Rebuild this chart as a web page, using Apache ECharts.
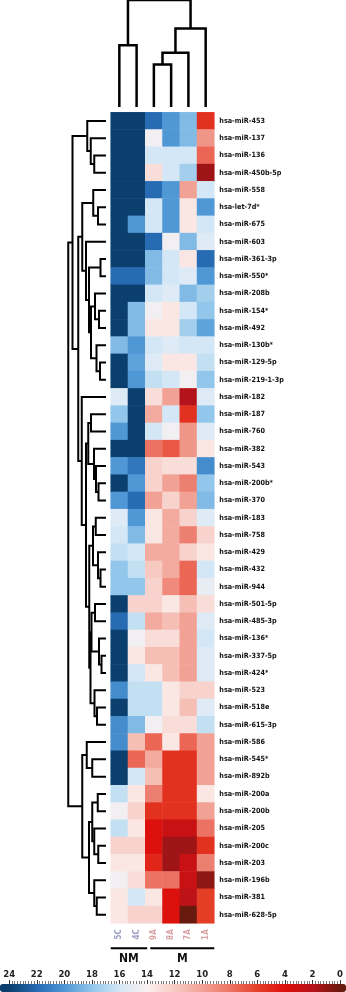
<!DOCTYPE html>
<html>
<head>
<meta charset="utf-8">
<style>
html, body { margin: 0; padding: 0; background: #fff; }
#chart { width: 346px; height: 992px; }
</style>
<script src="https://cdn.jsdelivr.net/npm/echarts@6/dist/echarts.min.js"></script>
</head>
<body>
<div id="chart"></div>
<script>
var samples = ['5C', '4C', '9A', '8A', '7A', '1A'];
var sampleColors = ['#9a9dc3', '#9a9dc3', '#d8a2a5', '#d8a2a5', '#d8a2a5', '#d8a2a5'];
var groups = [['NM', 0, 1], ['M', 2, 5]];

var mirnas = ['hsa-miR-453', 'hsa-miR-137', 'hsa-miR-136', 'hsa-miR-450b-5p', 'hsa-miR-558',
    'hsa-let-7d*', 'hsa-miR-675', 'hsa-miR-603', 'hsa-miR-361-3p', 'hsa-miR-550*', 'hsa-miR-208b',
    'hsa-miR-154*', 'hsa-miR-492', 'hsa-miR-130b*', 'hsa-miR-129-5p', 'hsa-miR-219-1-3p', 'hsa-miR-182',
    'hsa-miR-187', 'hsa-miR-760', 'hsa-miR-382', 'hsa-miR-543', 'hsa-miR-200b*', 'hsa-miR-370',
    'hsa-miR-183', 'hsa-miR-758', 'hsa-miR-429', 'hsa-miR-432', 'hsa-miR-944', 'hsa-miR-501-5p',
    'hsa-miR-485-3p', 'hsa-miR-136*', 'hsa-miR-337-5p', 'hsa-miR-424*', 'hsa-miR-523', 'hsa-miR-518e',
    'hsa-miR-615-3p', 'hsa-miR-586', 'hsa-miR-545*', 'hsa-miR-892b', 'hsa-miR-200a', 'hsa-miR-200b',
    'hsa-miR-205', 'hsa-miR-200c', 'hsa-miR-203', 'hsa-miR-196b', 'hsa-miR-381', 'hsa-miR-628-5p'];

// one row per miRNA, columns in sample order
var values = [
    [24, 24, 22, 20, 18.5, 5.5],
    [24, 24, 14.5, 20, 18.5, 9.5],
    [24, 24, 16, 16, 16, 7.5],
    [24, 24, 13, 16, 17.5, 1.5],
    [24, 24, 22, 20, 10, 16],
    [24, 24, 16, 20, 13.5, 20],
    [24, 20, 16, 20, 13.5, 16],
    [24, 24, 22, 14.5, 18.5, 15.5],
    [24, 24, 18.5, 16, 13.5, 22],
    [22, 22, 18.5, 16, 15.5, 20],
    [24, 24, 16, 15.5, 18.5, 17.5],
    [24, 18.5, 14.5, 13.5, 16, 18],
    [24, 18.5, 13.5, 13.5, 17.5, 19.5],
    [18.5, 20, 16, 15.5, 16, 16],
    [24, 19.5, 15.5, 13.5, 13.5, 16.5],
    [24, 20, 16.5, 16, 14.5, 18],
    [15.5, 24, 13, 10, 2, 15.5],
    [18, 24, 10.5, 16, 5.5, 18],
    [20, 24, 16, 14.5, 9.5, 15.5],
    [24, 24, 8, 7, 9.5, 13.5],
    [20, 21.5, 12.5, 13, 13, 20.5],
    [24, 20, 12.5, 10, 8.5, 18],
    [20, 22, 10, 12.5, 10, 18.5],
    [15.5, 20, 13.5, 10.5, 12.5, 15.5],
    [16, 18.5, 13.5, 10.5, 8.5, 12.5],
    [16.5, 16, 10.5, 10.5, 12.5, 13.5],
    [18, 16.5, 12, 10.5, 7.5, 16],
    [18, 18, 12.5, 9, 7.5, 15],
    [24, 12.5, 12.5, 13.5, 11.5, 13],
    [22, 16.5, 10.5, 11.5, 10, 15.5],
    [24, 14.5, 13, 13, 10, 16],
    [24, 13.5, 11.5, 11.5, 10, 15.5],
    [24, 16, 13.5, 11.5, 10, 15.5],
    [20.5, 16.5, 16.5, 13.5, 12.5, 12.5],
    [24, 16.5, 16.5, 13.5, 11.5, 15.5],
    [20.5, 18.5, 14.5, 13, 13, 16.5],
    [20.5, 11.5, 7.5, 13.5, 7.5, 10],
    [24, 7.5, 10.5, 5.5, 5.5, 10],
    [24, 16, 11.5, 5.5, 5.5, 10],
    [16.5, 13.5, 8.5, 5.5, 5.5, 13.5],
    [14.5, 12.5, 5.5, 5.5, 5.5, 10],
    [16.5, 13.5, 4, 3, 3, 8],
    [12.5, 12.5, 4, 1.5, 1.5, 5.5],
    [13.5, 13.5, 5, 1.5, 3, 8.5],
    [14.5, 13, 8, 8, 3, 1],
    [13.5, 16, 13.5, 4, 2.5, 6],
    [13.5, 12.5, 12.5, 4, 0, 6]
];

// colour scale, value 0 -> 24 in steps of 2
var scaleColors = ['#661a0e', '#b3131a', '#dd0f0c', '#e53d26', '#ec7363', '#f2a195', '#f7c9c1',
    '#fbf1f0', '#d4e8f6', '#92c6eb', '#4f97d5', '#276bb4', '#0b3e6c'];
var scaleStep = 2;

// dendrograms: [height, left, right], leaves are row / column indices
var rowTree = [15.1,
    [13.4,
        [7.5, 0, [6.1, 1, [4.7, 2, 3]]],
        [11.1,
            [9.5,
                [5.1, 4, [3.2, 5, 6]],
                [8.0, 7, [6.8, [2.2, 8, 9], [6.0, [4.4, 10, [2.8, 11, 12]], [3.8, 13, [2.4, 14, 15]]]]]],
            [9.7, 16,
                [8.0,
                    [7.1, [6.0, 17, 18], [4.8, 19, [4.0, 20, [3.0, 21, 22]]]],
                    [6.7,
                        [5.2, [4.1, 23, 24], [3.2, 25, [2.2, 26, 27]]],
                        [6.2, [5.8, [4.4, 28, 29], [2.8, 30, [1.8, 31, 32]]], [4.6, 33, [3.6, 34, 35]]]]]]]],
    [9.5,
        [7.7, 36, [5.5, 37, 38]],
        [6.8, [5.5, [3.3, 39, 40], [4.7, 41, [3.1, 42, 43]]], [4.7, 44, [3.7, 45, 46]]]]];
var colTree = [42.4, [24.5, 0, 1], [31.1, [21.5, [16.8, 2, 3], 4], 5]];

function flatten(node, out) {
    if (typeof node === 'number') return { pos: node, h: 0 };
    var a = flatten(node[1], out);
    var b = flatten(node[2], out);
    out.push([a.pos, a.h, b.pos, b.h, node[0]]);
    return { pos: (a.pos + b.pos) / 2, h: node[0] };
}
var rowLinks = [];
flatten(rowTree, rowLinks);
var colLinks = [];
flatten(colTree, colLinks);

var cells = [];
values.forEach(function (row, r) {
    row.forEach(function (v, c) { cells.push([c, r, v]); });
});

// the colour bar runs a little past 0 and 24, so resample the scale over that range
var barMin = -0.3, barMax = 24.65;
function colorAt(v) {
    var t = Math.max(0, Math.min(scaleColors.length - 1, v / scaleStep));
    return echarts.color.lerp(t / (scaleColors.length - 1), scaleColors);
}
var barColors = [];
for (var k = 0; k <= 120; k++) {
    barColors.push(colorAt(barMin + (barMax - barMin) * k / 120));
}

var font = '"DejaVu Sans Condensed", sans-serif';
var nRows = mirnas.length;
var gridTop = 112.3, gridH = 811, gridL = 110.7, gridW = 103.6;

var chart = echarts.init(document.getElementById('chart'));

var option = {
    animation: false,
    grid: [
        { left: gridL, top: gridTop, width: gridW, height: gridH },
        { left: 0, top: gridTop, width: 106, height: gridH },
        { left: gridL, top: 0, width: gridW, height: 107 },
        { left: 9.2, top: 960, width: 332.8, height: 24 }
    ],
    xAxis: [
        {
            gridIndex: 0, type: 'category',
            data: samples.map(function (s, i) { return { value: s, textStyle: { color: sampleColors[i] } }; }),
            axisLine: { show: false }, axisTick: { show: false },
            axisLabel: { rotate: 90, fontSize: 8, fontFamily: font, fontWeight: 'bold', margin: 6 }
        },
        { gridIndex: 1, type: 'value', min: 0, max: 42.4, inverse: true, show: false },
        { gridIndex: 2, type: 'value', min: -0.5, max: 5.5, show: false },
        {
            gridIndex: 3, type: 'value', min: 0, max: 24, interval: 2, inverse: true, position: 'bottom',
            axisLine: { show: false },
            axisTick: { inside: true, length: 4, lineStyle: { color: '#333', width: 1 } },
            minorTick: { show: true, splitNumber: 10, length: 3, lineStyle: { color: '#555', width: 0.8 } },
            splitLine: { show: false },
            axisLabel: { inside: true, margin: 4, fontSize: 9.5, fontWeight: 'bold', fontFamily: font, color: '#222', verticalAlign: 'bottom' }
        }
    ],
    yAxis: [
        {
            gridIndex: 0, type: 'category', data: mirnas, inverse: true, position: 'right',
            axisLine: { show: false }, axisTick: { show: false },
            axisLabel: { interval: 0, fontSize: 7.2, fontWeight: 'bold', fontFamily: font, color: '#111', margin: 5 }
        },
        { gridIndex: 1, type: 'value', min: -0.5, max: nRows - 0.5, inverse: true, show: false },
        { gridIndex: 2, type: 'value', min: 0, max: 42.4, show: false },
        { gridIndex: 3, type: 'value', min: 0, max: 1, show: false }
    ],
    visualMap: {
        type: 'continuous', min: barMin, max: barMax, dimension: 2, seriesIndex: 0,
        orient: 'horizontal', inverse: true, left: 0, top: 984, padding: 0,
        itemWidth: 8, itemHeight: 346, calculable: false, hoverLink: false, text: null,
        showLabel: false,
        inRange: { color: barColors }
    },
    series: [
        {
            type: 'heatmap', xAxisIndex: 0, yAxisIndex: 0, data: cells,
            itemStyle: { borderWidth: 0 }, emphasis: { disabled: true }
        },
        {
            type: 'custom', xAxisIndex: 1, yAxisIndex: 1, data: rowLinks, silent: true,
            renderItem: function (params, api) {
                var p1 = api.value(0), h1 = api.value(1), p2 = api.value(2), h2 = api.value(3), h = api.value(4);
                return {
                    type: 'polyline',
                    shape: { points: [api.coord([h1, p1]), api.coord([h, p1]), api.coord([h, p2]), api.coord([h2, p2])] },
                    style: { stroke: '#000', lineWidth: 2, fill: null }
                };
            }
        },
        {
            type: 'custom', xAxisIndex: 2, yAxisIndex: 2, data: colLinks, silent: true,
            renderItem: function (params, api) {
                var p1 = api.value(0), h1 = api.value(1), p2 = api.value(2), h2 = api.value(3), h = api.value(4);
                return {
                    type: 'polyline',
                    shape: { points: [api.coord([p1, h1]), api.coord([p1, h]), api.coord([p2, h]), api.coord([p2, h2])] },
                    style: { stroke: '#000', lineWidth: 2.5, fill: null }
                };
            }
        },
        {
            type: 'custom', xAxisIndex: 0, yAxisIndex: 0, silent: true,
            data: groups.map(function (g) { return [g[1], g[2]]; }),
            renderItem: function (params, api) {
                var g = groups[params.dataIndex];
                var size = api.size([1, 1]);
                var a = api.coord([g[1], nRows - 1]);
                var b = api.coord([g[2], nRows - 1]);
                var x1 = a[0] - size[0] / 2 + (g[1] > 0 ? 5 : 0);
                var x2 = b[0] + size[0] / 2 + (g[2] < samples.length - 1 ? 2 : 0);
                var y = a[1] + size[1] / 2 + 25;
                return {
                    type: 'group',
                    children: [
                        { type: 'line', shape: { x1: x1, y1: y, x2: x2, y2: y }, style: { stroke: '#000', lineWidth: 2 } },
                        {
                            type: 'text',
                            style: {
                                text: g[0], x: (x1 + x2) / 2, y: y + 11, align: 'center', verticalAlign: 'middle',
                                font: 'bold 12px ' + font, fill: '#111'
                            }
                        }
                    ]
                };
            }
        }
    ]
};

chart.setOption(option);
</script>
</body>
</html>
